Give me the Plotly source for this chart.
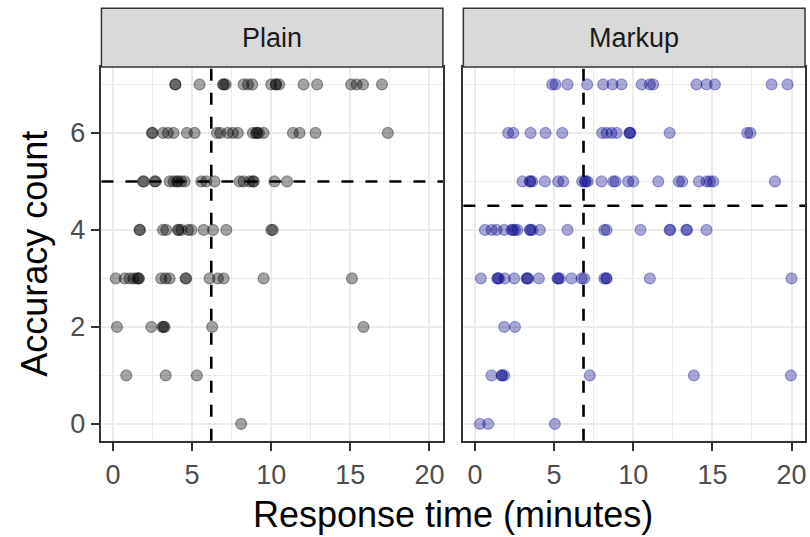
import plotly.graph_objects as go

# ---- data ----
plain_time = [
    3.94, 3.94, 5.47, 6.95, 7.0, 7.12, 8.25, 8.53, 8.8, 10.0, 10.3, 10.3, 10.5, 12.04, 12.9, 15.05, 15.4, 15.8, 17.0,
    2.46, 2.5, 3.16, 3.47, 3.83, 4.67, 5.16, 6.57, 6.78, 7.26, 7.58, 7.89, 8.84, 9.05, 9.1, 9.22, 9.52, 11.37, 11.79, 12.8, 17.37,
    1.89, 1.95, 2.63, 2.7, 3.58, 3.83, 4.04, 4.1, 4.32, 4.53, 5.58, 5.89, 6.42, 8.0, 8.25, 8.63, 8.84, 8.9, 10.2, 11.0,
    1.68, 1.7, 3.16, 3.37, 4.1, 4.15, 4.32, 4.74, 4.95, 5.73, 6.32, 7.16, 10.0, 10.1,
    0.17, 0.74, 1.05, 1.3, 1.52, 1.6, 1.64, 3.05, 3.33, 3.58, 4.59, 4.62, 6.1, 6.63, 6.99, 9.52, 15.1,
    0.25, 2.42, 3.12, 3.2, 3.26, 6.27, 15.83,
    0.84, 3.33, 5.3,
    8.1,
]
plain_count = ([7] * 19 + [6] * 21 + [5] * 20 + [4] * 14 + [3] * 17 + [2] * 7 + [1] * 3 + [0] * 1)

markup_time = [
    4.88, 5.09, 5.85, 7.09, 8.1, 8.69, 9.26, 10.53, 11.05, 11.26, 14.0, 14.63, 15.16, 18.74, 19.75,
    2.1, 2.42, 3.52, 4.46, 5.52, 8.04, 8.32, 8.63, 8.95, 9.75, 9.79, 9.82, 12.3, 17.2, 17.4,
    3.01, 3.47, 3.5, 3.62, 4.42, 5.26, 5.58, 6.78, 6.95, 7.0, 7.12, 8.0, 8.74, 8.88, 9.68, 10.0, 11.58, 12.88, 13.09, 14.15, 14.63, 14.84, 15.05, 18.95,
    0.63, 1.05, 1.37, 1.85, 2.32, 2.4, 2.53, 2.69, 3.47, 3.5, 3.62, 4.1, 5.85, 8.17, 8.32, 10.46, 12.3, 12.34, 13.35, 13.4, 14.63,
    0.38, 1.41, 1.45, 1.52, 1.89, 2.48, 3.26, 3.3, 3.37, 4.04, 5.22, 5.25, 5.37, 6.1, 6.74, 6.9, 8.17, 8.3, 8.32, 11.05, 20.0,
    1.85, 2.53,
    1.05, 1.68, 1.72, 1.85, 7.26, 13.83, 19.96,
    0.32, 0.84, 5.05,
]
markup_count = ([7] * 15 + [6] * 15 + [5] * 24 + [4] * 21 + [3] * 21 + [2] * 2 + [1] * 7 + [0] * 3)

panel_names = ["Plain", "Markup"]
ref_time = [6.21, 6.86]     # vertical dashed reference lines
ref_count = [5.0, 4.5]      # horizontal dashed reference lines

x_ticks = [0, 5, 10, 15, 20]
y_ticks = [0, 2, 4, 6]

# ---- styling ----
FONT = "Liberation Sans, Arial, sans-serif"
GRID = "#EBEBEB"
BORDER = "#333333"
plain_col = "rgba(0,0,0,0.36)"
markup_col = "rgba(0,0,139,0.34)"

xr = [-0.73, 20.85]
yr = [-0.345, 7.36]
dom1 = [101.7 / 810, 444 / 810]
dom2 = [464.5 / 810, 807 / 810]
ydom = [1 - 440.7 / 537, 1 - 67 / 537]
strip = [1 - 67 / 537, 1 - 8.3 / 537]

fig = go.Figure()
fig.add_trace(go.Scatter(x=plain_time, y=plain_count, mode="markers", xaxis="x", yaxis="y",
                         marker=dict(size=11, color=plain_col, line=dict(color=plain_col, width=1.2)),
                         showlegend=False, hoverinfo="x+y"))
fig.add_trace(go.Scatter(x=markup_time, y=markup_count, mode="markers", xaxis="x2", yaxis="y2",
                         marker=dict(size=11, color=markup_col, line=dict(color=markup_col, width=1.2)),
                         showlegend=False, hoverinfo="x+y"))

xcommon = dict(range=xr, tickmode="array", tickvals=x_ticks, ticktext=[str(v) for v in x_ticks],
               showgrid=True, gridcolor=GRID, gridwidth=2,
               minor=dict(tickmode="array", tickvals=[2.5, 7.5, 12.5, 17.5], showgrid=True,
                          gridcolor=GRID, gridwidth=1, ticks=""),
               ticks="outside", ticklen=9, tickwidth=2, tickcolor=BORDER,
               tickfont=dict(family=FONT, size=27, color="#4D4D4D"),
               showline=True, linecolor=BORDER, linewidth=1.5, mirror=True, zeroline=False)
ycommon = dict(range=yr, tickmode="array", tickvals=y_ticks, ticktext=[str(v) for v in y_ticks],
               showgrid=True, gridcolor=GRID, gridwidth=2,
               minor=dict(tickmode="array", tickvals=[1, 3, 5, 7], showgrid=True,
                          gridcolor=GRID, gridwidth=1, ticks=""),
               showline=True, linecolor=BORDER, linewidth=1.5, mirror=True, zeroline=False,
               domain=ydom)

fig.update_layout(
    width=810, height=537,
    margin=dict(l=0, r=0, t=0, b=0),
    paper_bgcolor="white", plot_bgcolor="white",
    xaxis=dict(domain=dom1, anchor="y", **xcommon),
    xaxis2=dict(domain=dom2, anchor="y2", **xcommon),
    yaxis=dict(anchor="x", ticks="outside", ticklen=9, tickwidth=2, tickcolor=BORDER,
               tickfont=dict(family=FONT, size=27, color="#4D4D4D"), **ycommon),
    yaxis2=dict(anchor="x2", ticks="", showticklabels=False, **ycommon),
)

shapes = []
annotations = []
doms = [dom1, dom2]
for i, name in enumerate(panel_names):
    xa = "x" if i == 0 else "x2"
    ya = "y" if i == 0 else "y2"
    d = doms[i]
    # strip
    shapes.append(dict(type="rect", xref="paper", yref="paper", x0=d[0], x1=d[1], y0=strip[0], y1=strip[1],
                       fillcolor="#D9D9D9", line=dict(color=BORDER, width=1.5), layer="above"))
    annotations.append(dict(text=name, xref="paper", yref="paper", x=(d[0] + d[1]) / 2,
                            y=(strip[0] + strip[1]) / 2, showarrow=False, xanchor="center", yanchor="middle",
                            font=dict(family=FONT, size=27, color="#1A1A1A")))
    # dashed reference lines
    shapes.append(dict(type="line", xref=xa, yref=ya + " domain", x0=ref_time[i], x1=ref_time[i], y0=0, y1=1,
                       line=dict(color="black", width=2.6, dash="12px,12px"), layer="above"))
    shapes.append(dict(type="line", xref=xa + " domain", yref=ya, x0=0, x1=1, y0=ref_count[i], y1=ref_count[i],
                       line=dict(color="black", width=2.6, dash="12px,12px"), layer="above"))

annotations.append(dict(text="Response time (minutes)", xref="paper", yref="paper",
                        x=(dom1[0] + dom2[1]) / 2, y=1 - 514 / 537, showarrow=False,
                        xanchor="center", yanchor="middle", font=dict(family=FONT, size=36, color="black")))
annotations.append(dict(text="Accuracy count", xref="paper", yref="paper", textangle=-90,
                        x=35 / 810, y=(ydom[0] + ydom[1]) / 2, showarrow=False,
                        xanchor="center", yanchor="middle", font=dict(family=FONT, size=36, color="black")))

fig.update_layout(shapes=shapes, annotations=annotations)
fig.write_html("out.html")
